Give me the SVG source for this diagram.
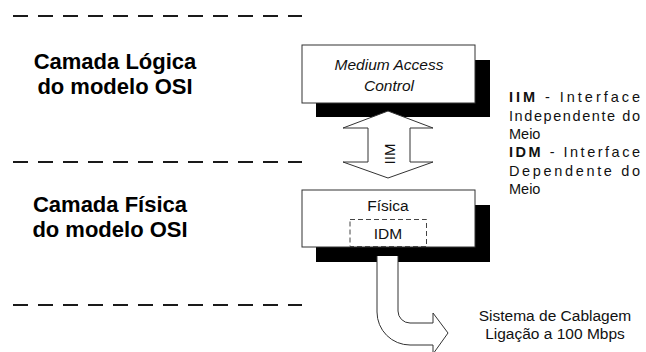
<svg xmlns="http://www.w3.org/2000/svg" width="646" height="352" viewBox="0 0 646 352">
  <style>
    .sep { stroke: #1a1a1a; stroke-width: 2; stroke-dasharray: 15 10; fill: none; }
    .box { fill: #ffffff; stroke: #333333; stroke-width: 1; }
    .shadow { fill: #000000; }
    .outline { fill: #ffffff; stroke: #333333; stroke-width: 1; }
    .layer { font-family: "Liberation Sans", Arial, sans-serif; font-weight: bold; font-size: 22px; fill: #000; text-anchor: middle; }
    .lbl { font-family: "Liberation Sans", Arial, sans-serif; font-size: 15.5px; fill: #111; text-anchor: middle; }
    .note { font-family: "Liberation Sans", Arial, sans-serif; font-size: 14.5px; fill: #111; }
  </style>

  <!-- layer separators -->
  <g id="separators">
    <line class="sep" x1="13" y1="16" x2="302" y2="16"/>
    <line class="sep" x1="13" y1="162" x2="302" y2="162"/>
    <line class="sep" x1="13" y1="305" x2="302" y2="305"/>
  </g>

  <!-- layer names -->
  <g id="layer-logical">
    <text class="layer" x="115" y="69">Camada Lógica</text>
    <text class="layer" x="115" y="94">do modelo OSI</text>
  </g>
  <g id="layer-physical">
    <text class="layer" x="110" y="212">Camada Física</text>
    <text class="layer" x="110" y="237">do modelo OSI</text>
  </g>

  <!-- MAC sublayer -->
  <g id="mac">
    <rect class="shadow" x="316" y="60" width="174" height="57"/>
    <rect class="box" x="302" y="45" width="173" height="58"/>
    <text class="lbl" x="389" y="70" font-size="16" font-style="italic">Medium Access</text>
    <text class="lbl" x="389" y="91" font-size="16" font-style="italic">Control</text>
  </g>

  <!-- physical layer with IDM -->
  <g id="fisica">
    <rect class="shadow" x="316" y="205" width="174" height="57"/>
    <rect class="box" x="302" y="190" width="173" height="57"/>
    <text class="lbl" x="388" y="211">Física</text>
    <rect x="350" y="219.5" width="76.5" height="27" fill="none" stroke="#444" stroke-width="1" stroke-dasharray="5 3"/>
    <text class="lbl" x="388" y="238.5">IDM</text>
  </g>

  <!-- connectors -->
  <g id="connectors">
    <!-- IIM: two-way block arrow between MAC and physical layer -->
    <polygon class="outline" points="388,111 433,128 410,128 410,162 433,162 388,178 343,162 368,162 368,128 343,128"/>
    <text class="lbl" font-size="12" x="0" y="0" text-anchor="start" textLength="21" lengthAdjust="spacingAndGlyphs" transform="translate(389,154) rotate(-90)" dominant-baseline="central">IIM</text>
    <!-- bent arrow towards the cabling system -->
    <path class="outline" d="M377,256 L377,312 A33,33 0 0 0 410,345 L433,345 L433,354 L448,333 L433,313 L433,323 L410,323 A12,12 0 0 1 398,311 L398,256"/>
  </g>

  <!-- legend -->
  <g id="legend">
    <text class="note" x="509" y="102" textLength="131" lengthAdjust="spacing"><tspan font-weight="bold">IIM</tspan> - Interface</text>
    <text class="note" x="509" y="120.5" textLength="131" lengthAdjust="spacing">Independente do</text>
    <text class="note" x="509" y="139">Meio</text>
    <text class="note" x="509" y="157" textLength="131" lengthAdjust="spacing"><tspan font-weight="bold">IDM</tspan> - Interface</text>
    <text class="note" x="509" y="175.5" textLength="131" lengthAdjust="spacing">Dependente do</text>
    <text class="note" x="509" y="194">Meio</text>
  </g>

  <!-- cabling label -->
  <g id="cablagem">
    <text class="lbl" x="555" y="321" font-size="16">Sistema de Cablagem</text>
    <text class="lbl" x="555" y="339" font-size="16">Ligação a 100 Mbps</text>
  </g>
</svg>
